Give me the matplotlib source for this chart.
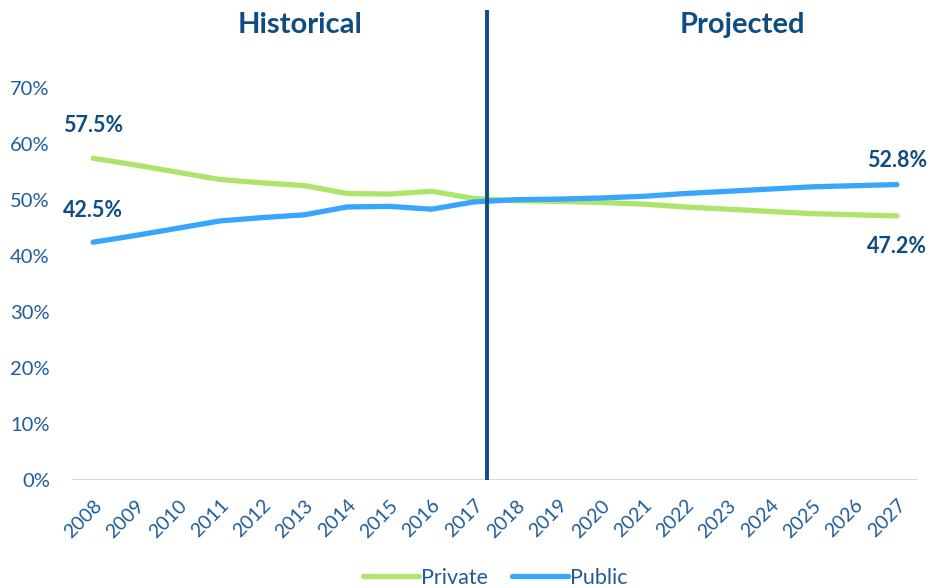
import numpy as np
import matplotlib.pyplot as plt

plt.rcParams['font.family'] = ['Lato', 'DejaVu Sans']

years = [str(y) for y in range(2008, 2028)]
private = [57.5, 56.3, 55.0, 53.7, 53.1, 52.6, 51.2, 51.1, 51.6, 50.3,
           49.9, 49.8, 49.6, 49.3, 48.8, 48.4, 48.0, 47.6, 47.4, 47.2]
public = [round(100 - p, 1) for p in private]
yticks = [0, 10, 20, 30, 40, 50, 60, 70]

navy = '#0F4C81'
tick_col = '#1F5C99'
green = '#AEE46C'
blue = '#38A6FC'

fig = plt.figure(figsize=(9.39, 5.88), dpi=100)
ax = fig.add_axes([0.0767, 0.1837, 0.901, 0.7993])

x = np.arange(len(years))
ax.plot(x, np.array(private) / 100, color=green, lw=3.8, solid_capstyle='round', label='Private')
ax.plot(x, np.array(public) / 100, color=blue, lw=3.8, solid_capstyle='round', label='Public')

# divider between historical and projected years
ax.axvline(9.3, color=navy, lw=2.8, zorder=5)

ax.set_xlim(-0.5, len(years) - 0.5)
ax.set_ylim(0, 0.84)
ax.set_yticks([v / 100 for v in yticks])
ax.set_yticklabels([f'{v}%' for v in yticks], color=tick_col, fontsize=14.5)
ax.set_xticks(x)
ax.set_xticklabels(years, rotation=45, ha='right', rotation_mode='anchor',
                   color=tick_col, fontsize=14)
ax.tick_params(axis='y', length=0, pad=16)
ax.tick_params(axis='x', length=0, pad=12)
for s in ax.spines.values():
    s.set_visible(False)
ax.axhline(0, color='#D9D9D9', lw=1.5, zorder=1)

# end-point value labels
lab = dict(color=navy, fontsize=15.5, fontweight='bold', ha='center', va='center')
ax.text(0, private[0] / 100 + 0.058, f'{private[0]}%', **lab)
ax.text(0, public[0] / 100 + 0.057, f'{public[0]}%', **lab)
ax.text(19, public[-1] / 100 + 0.043, f'{public[-1]}%', **lab)
ax.text(19, private[-1] / 100 - 0.054, f'{private[-1]}%', **lab)

ax.text(4.9, 0.813, 'Historical', color=navy, fontsize=21, fontweight='bold', ha='center', va='center')
ax.text(15.35, 0.813, 'Projected', color=navy, fontsize=21, fontweight='bold', ha='center', va='center')

leg = ax.legend(loc='lower center', bbox_to_anchor=(0.5, -0.27), ncol=2, frameon=False,
                fontsize=15.5, handlelength=2.6, handletextpad=0.1, columnspacing=1.1)
for t in leg.get_texts():
    t.set_color(tick_col)

fig.savefig('out.png', dpi=100)
